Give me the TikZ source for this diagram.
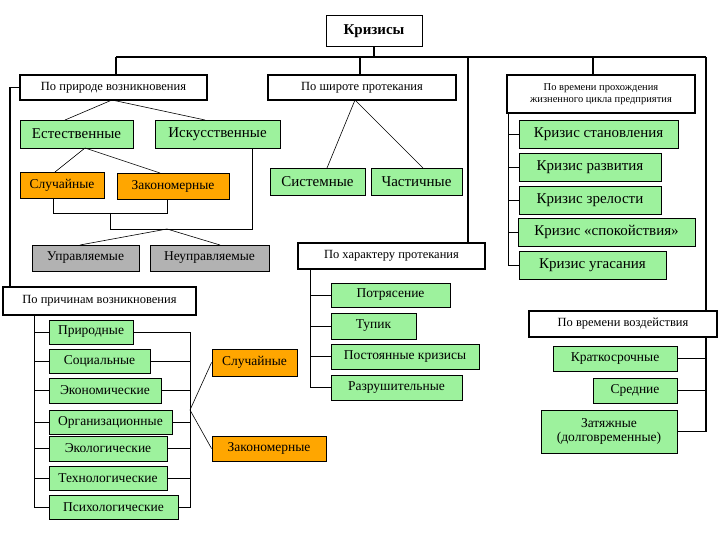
\documentclass[tikz,border=0pt]{standalone}
\usepackage{fontspec}
\setmainfont{Liberation Serif}
\begin{document}
\begin{tikzpicture}[x=1pt,y=-1pt,
  b/.style={draw,line width=0.9pt,inner sep=0pt,align=center},
  hd/.style={b,fill=white,line width=1.8pt,font=\fontsize{12.5}{13}\selectfont},
  gr/.style={b,fill=green!35!white!95!black,font=\fontsize{13.5}{14}\selectfont},
  grb/.style={gr,font=\fontsize{15}{16}\selectfont},
  og/.style={b,fill=orange!70!yellow,font=\fontsize{13.5}{14}\selectfont},
  gy/.style={b,fill=black!30,font=\fontsize{13.5}{14}\selectfont},
  ln/.style={line width=0.6pt},
  tk/.style={line width=1.8pt}]
\useasboundingbox (0,0) rectangle (720,540);
\fill[white] (0,0) rectangle (720,540);
\def\bx#1#2#3#4#5#6#7{\node[#1,minimum width=#5pt,minimum height=#6pt] (#2) at (#3,#4) {#7};}
\bx{hd,font=\bfseries\fontsize{15}{16}\selectfont,line width=1pt}{K}{374}{31.5}{96}{31}{Кризисы}
\bx{hd}{nat}{113.5}{87.5}{187}{25}{По природе возникновения}
\bx{hd}{shir}{362}{87.5}{188}{25}{По широте протекания}
\bx{hd,font=\fontsize{10.5}{12}\selectfont}{vrem}{601}{94}{188}{38}{По времени прохождения\\жизненного цикла предприятия}
\bx{grb}{est}{76.5}{134}{113}{28}{Естественные}
\bx{grb}{isk}{217.5}{134}{125}{28}{Искусственные}
\bx{og}{sla}{62}{185}{84}{26}{Случайные}
\bx{og}{zaka}{173}{186}{112}{26}{Закономерные}
\bx{gy}{upr}{85.5}{258}{107}{26}{Управляемые}
\bx{gy}{neupr}{209.5}{258}{119}{26}{Неуправляемые}
\bx{grb}{sys}{317.5}{181.5}{95}{27}{Системные}
\bx{grb}{chast}{416.5}{181.5}{91}{27}{Частичные}
\bx{hd}{har}{391.5}{256}{187}{26}{По характеру протекания}
\bx{grb}{ka}{598.5}{134}{159}{28}{Кризис становления}
\bx{grb}{kb}{590}{167}{142}{28}{Кризис развития}
\bx{grb}{kc}{590}{200}{142}{28}{Кризис зрелости}
\bx{grb}{kd}{606.5}{232}{177}{28}{Кризис «спокойствия»}
\bx{grb}{ke}{592.5}{265}{147}{28}{Кризис угасания}
\bx{gr}{pa}{390.5}{295}{119}{24}{Потрясение}
\bx{gr}{pb}{373.5}{326}{85}{26}{Тупик}
\bx{gr}{pc}{405}{356.5}{148}{25}{Постоянные кризисы}
\bx{gr}{pd}{396.5}{387.5}{131}{25}{Разрушительные}
\bx{hd}{prich}{99.5}{301}{193}{28}{По причинам возникновения}
\bx{gr}{ca}{91}{332}{84}{24}{Природные}
\bx{gr}{cb}{99.5}{361}{101}{24}{Социальные}
\bx{gr}{cc}{105}{390.5}{112}{25}{Экономические}
\bx{gr}{cd}{110.5}{422}{123}{24}{Организационные}
\bx{gr}{ce}{108}{448.5}{118}{25}{Экологические}
\bx{gr}{cf}{108}{478}{118}{24}{Технологические}
\bx{gr}{cg}{113.5}{507}{129}{24}{Психологические}
\bx{og}{slb}{254.5}{362.5}{85}{27}{Случайные}
\bx{og}{zakb}{269}{448.5}{114}{25}{Закономерные}
\bx{hd}{vv}{623}{324}{188}{26}{По времени воздействия}
\bx{gr}{ta}{615}{358.5}{124}{25}{Краткосрочные}
\bx{gr}{tb}{635}{390.5}{84}{25}{Средние}
\bx{gr}{tc}{609}{431.5}{136}{43}{Затяжные\\(долговременные)}
% top bus
\coordinate (bl) at (116,57); \coordinate (br) at (706,57);
\draw[tk] (K.south) -- (K.south|-bl);
\draw[tk] (bl) -- (br);
\draw[tk] (bl) -- (bl|-nat.north);
\draw[tk] (360,57) -- (360,75);
\draw[tk] (593,57) -- (593,75);
\draw[tk] (468,57) -- (468,243);
\draw[tk] (br) -- (br|-vv.north);
\draw[tk] (nat.west) -- (10,87.5) -- (10,287);
% nature
\coordinate (nb) at (112,100);
\draw[ln] (nb) -- (65,120) (nb) -- (205,120);
\draw[ln] (85,148) -- (55,172) (85,148) -- (160,173);
\draw[ln] (53,198) -- (53,213) -- (167,213) -- (167,199);
\coordinate (m) at (167,229);
\draw[ln] (110,213) -- (110,229) -- (252,229) -- (252,148);
\draw[ln] (m) -- (80,245) (m) -- (220,245);
% width
\draw[ln] (355,100) -- (327,168) (355,100) -- (423,168);
% life cycle
\draw[ln] (508,113) -- (508,265) -- (ke.west);
\foreach \n in {ka,kb,kc,kd} \draw[ln] (\n.west) -- (508,0|-\n.west);
% character
\draw[ln] (310,269) -- (310,387.5) -- (pd.west);
\foreach \n in {pa,pb,pc} \draw[ln] (\n.west) -- (310,0|-\n.west);
% causes
\draw[ln] (34,315) -- (34,507) -- (cg.west);
\foreach \n in {ca,cb,cc,cd,ce,cf} \draw[ln] (\n.west) -- (34,0|-\n.west);
\draw[ln] (190,332) -- (190,507) -- (cg.east);
\foreach \n in {ca,cb,cc,cd,ce,cf} \draw[ln] (\n.east) -- (190,0|-\n.east);
\coordinate (j) at (190,410);
\draw[ln] (j) -- (slb.west) (j) -- (zakb.west);
% duration
\draw[tk] (vv.south-|br) -- (706,431.5) -- (tc.east);
\draw[ln] (ta.east) -- (706,358.5) (tb.east) -- (706,390.5);
\end{tikzpicture}
\end{document}
